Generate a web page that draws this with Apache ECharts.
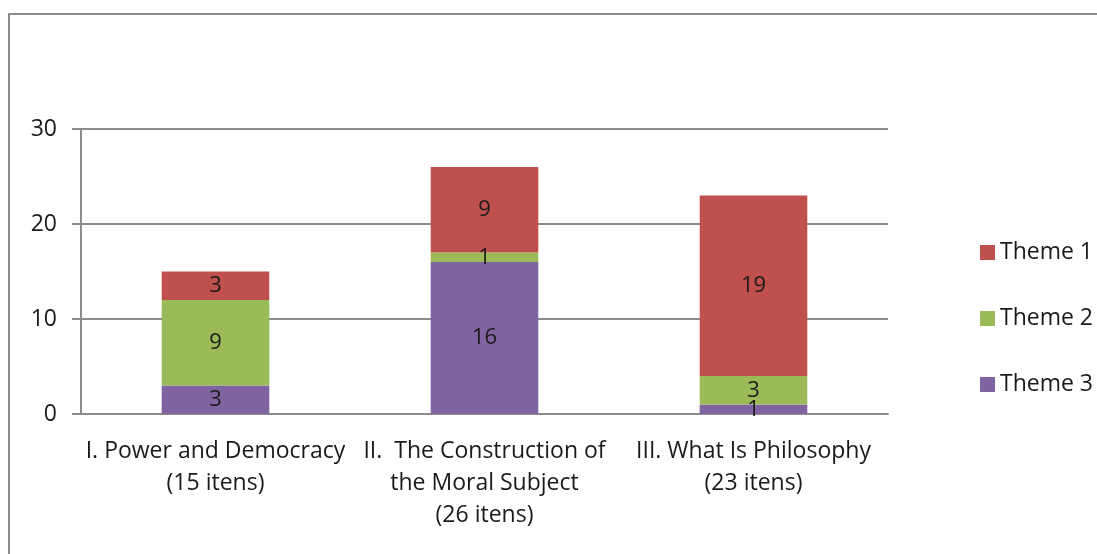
<!DOCTYPE html>
<html>
<head>
<meta charset="utf-8">
<script src="https://cdn.jsdelivr.net/npm/echarts@6/dist/echarts.min.js"></script>
<style>
  html, body { margin: 0; padding: 0; background: #fff; }
  #chart { width: 1097px; height: 554px; }
</style>
</head>
<body>
<div id="chart"></div>
<script>
// categories (x axis)
var categories = [
	'I. Power and Democracy\n(15 itens)',
	'II.  The Construction of\nthe Moral Subject\n(26 itens)',
	'III. What Is Philosophy\n(23 itens)'
];
// series values, stacked from bottom (Theme 3) to top (Theme 1)
var theme1 = [3, 9, 19];
var theme2 = [9, 1, 3];
var theme3 = [3, 16, 1];
var legendNames = ['Theme 1', 'Theme 2', 'Theme 3'];

var fontName = 'Open Sans';
var gray = '#8c8c8c';

function barSeries(name, data, color) {
	return {
		name: name,
		type: 'bar',
		stack: 'total',
		barWidth: '40%',
		itemStyle: { color: color },
		label: {
			show: true,
			position: 'inside',
			color: '#1a1a1a',
			fontFamily: fontName,
			fontSize: 22
		},
		data: data
	};
}

var option = {
	animation: false,
	backgroundColor: '#fff',
	textStyle: { fontFamily: fontName },
	graphic: [{
		type: 'rect',
		shape: { x: 9, y: 14, width: 1200, height: 600 },
		style: { fill: 'none', stroke: gray, lineWidth: 2 },
		silent: true
	}],
	grid: { left: 81, right: 209, top: 129, bottom: 140 },
	legend: {
		data: legendNames,
		orient: 'vertical',
		left: 975,
		top: 236,
		itemWidth: 15,
		itemHeight: 15,
		itemGap: 43,
		icon: 'rect',
		textStyle: { fontSize: 23, color: '#1a1a1a', fontFamily: fontName }
	},
	xAxis: {
		type: 'category',
		data: categories,
		axisLine: { lineStyle: { color: gray, width: 2 } },
		axisTick: { length: 8, lineStyle: { color: gray, width: 2 } },
		axisLabel: {
			color: '#1a1a1a',
			fontSize: 23,
			lineHeight: 32,
			margin: 21,
			interval: 0
		}
	},
	yAxis: {
		type: 'value',
		min: 0,
		max: 30,
		interval: 10,
		axisLine: { show: true, lineStyle: { color: gray, width: 2 } },
		axisTick: { show: true, length: 9, lineStyle: { color: gray, width: 2 } },
		splitLine: { lineStyle: { color: gray, width: 2 } },
		axisLabel: { color: '#1a1a1a', fontSize: 23, margin: 24 }
	},
	series: [
		barSeries('Theme 3', theme3, '#8064a2'),
		barSeries('Theme 2', theme2, '#9bbb59'),
		barSeries('Theme 1', theme1, '#c0504d')
	]
};

var myChart = echarts.init(document.getElementById('chart'));
myChart.setOption(option);
</script>
</body>
</html>
